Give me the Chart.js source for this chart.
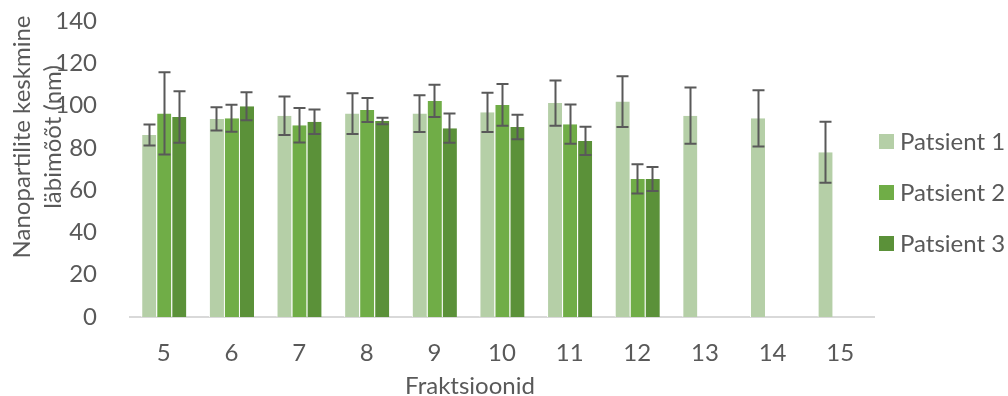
<!DOCTYPE html>
<html>
<head>
<meta charset="utf-8">
<script src="https://cdn.jsdelivr.net/npm/chart.js@4"></script>
<style>
  html, body { margin: 0; padding: 0; background: #fff; }
  #wrap { width: 1008px; height: 396px; }
</style>
</head>
<body>
<div id="wrap"><canvas id="barChart"></canvas></div>
<script>
// data
const fractions = ['5', '6', '7', '8', '9', '10', '11', '12', '13', '14', '15'];
const seriesNames = ['Patsient 1', 'Patsient 2', 'Patsient 3'];
const patient1 = [86.1, 93.7, 95.2, 96.2, 96.2, 96.8, 101.2, 101.9, 95.2, 94.0, 77.9];
const patient2 = [96.3, 94.0, 90.7, 97.9, 102.2, 100.3, 91.2, 65.3, null, null, null];
const patient3 = [94.6, 99.7, 92.4, 92.7, 89.3, 89.9, 83.3, 65.3, null, null, null];
const patient1Err = [5.0, 5.5, 9.1, 9.6, 8.7, 9.3, 10.7, 12.0, 13.3, 13.3, 14.4];
const patient2Err = [19.5, 6.4, 8.2, 5.7, 7.6, 9.9, 9.3, 6.9, null, null, null];
const patient3Err = [12.2, 6.6, 5.8, 1.5, 6.9, 5.8, 6.7, 5.7, null, null, null];
const yTicks = [0, 20, 40, 60, 80, 100, 120, 140];

const colors = ['#b5cfa7', '#70ad47', '#5b9139'];
const errors = [patient1Err, patient2Err, patient3Err];
const textColor = '#595959';
const fontFamily = 'Lato, "Open Sans", sans-serif';

// error bars on top of each bar
const errorBars = {
    id: 'errorBars',
    afterDatasetsDraw(chart) {
        const { ctx, scales: { y } } = chart;
        ctx.save();
        ctx.strokeStyle = '#595959';
        ctx.lineWidth = 2;
        chart.data.datasets.forEach((ds, di) => {
            const meta = chart.getDatasetMeta(di);
            meta.data.forEach((bar, i) => {
                const v = ds.data[i];
                const e = errors[di][i];
                if (v == null || e == null) return;
                const top = y.getPixelForValue(v + e);
                const bot = y.getPixelForValue(v - e);
                const x = Math.round(bar.x) + 0.5;
                ctx.beginPath();
                ctx.moveTo(x, top);
                ctx.lineTo(x, bot);
                ctx.moveTo(x - 6, top);
                ctx.lineTo(x + 6, top);
                ctx.moveTo(x - 6, bot);
                ctx.lineTo(x + 6, bot);
                ctx.stroke();
            });
        });
        ctx.restore();
    }
};

// axis titles and legend at the spots they sit in the reference
const extras = {
    id: 'extras',
    afterDraw(chart) {
        const { ctx } = chart;
        ctx.save();
        ctx.fillStyle = textColor;
        ctx.font = '24px ' + fontFamily;
        ctx.textAlign = 'center';
        ctx.textBaseline = 'middle';

        ctx.fillText('Fraktsioonid', 470, 386);

        ctx.save();
        ctx.translate(22, 137);
        ctx.rotate(-Math.PI / 2);
        ctx.fillText('Nanopartilite keskmine', 0, 0);
        ctx.restore();
        ctx.save();
        ctx.translate(53, 137);
        ctx.rotate(-Math.PI / 2);
        ctx.fillText('läbimõõt (nm)', 0, 0);
        ctx.restore();

        ctx.textAlign = 'left';
        chart.data.datasets.forEach((ds, i) => {
            const cy = 141 + i * 51;
            ctx.fillStyle = ds.backgroundColor;
            ctx.fillRect(879, cy - 7, 15, 15);
            ctx.fillStyle = textColor;
            ctx.fillText(ds.label, 900, cy + 1);
        });
        ctx.restore();
    }
};

const seriesData = [patient1, patient2, patient3];

new Chart(document.getElementById('barChart'), {
    type: 'bar',
    data: {
        labels: fractions,
        datasets: seriesNames.map((name, i) => ({
            label: name,
            data: seriesData[i],
            backgroundColor: colors[i],
            borderColor: '#ffffff',
            borderWidth: { left: 1, right: 0, top: 0, bottom: 0 },
            borderSkipped: false
        }))
    },
    options: {
        responsive: true,
        maintainAspectRatio: false,
        animation: false,
        layout: { padding: { top: 21, right: 134, left: 0, bottom: 0 } },
        datasets: {
            bar: { categoryPercentage: 0.667, barPercentage: 1 }
        },
        scales: {
            x: {
                grid: { display: false },
                border: { display: true, color: '#d9d9d9', width: 2 },
                ticks: {
                    color: textColor,
                    font: { family: fontFamily, size: 24 },
                    padding: 14,
                    maxRotation: 0
                },
                afterFit(scale) { scale.height = 79; }
            },
            y: {
                min: 0,
                max: 140,
                grid: { display: false },
                border: { display: false },
                afterBuildTicks(scale) { scale.ticks = yTicks.map(v => ({ value: v })); },
                ticks: {
                    color: textColor,
                    font: { family: fontFamily, size: 24 },
                    padding: 25
                },
                afterFit(scale) {
                    scale.width = 130;
                    // tick padding must not push the plot down
                    scale.paddingTop = 0;
                    scale.paddingBottom = 0;
                }
            }
        },
        plugins: {
            legend: { display: false },
            tooltip: { enabled: false }
        }
    },
    plugins: [errorBars, extras]
});
</script>
</body>
</html>
